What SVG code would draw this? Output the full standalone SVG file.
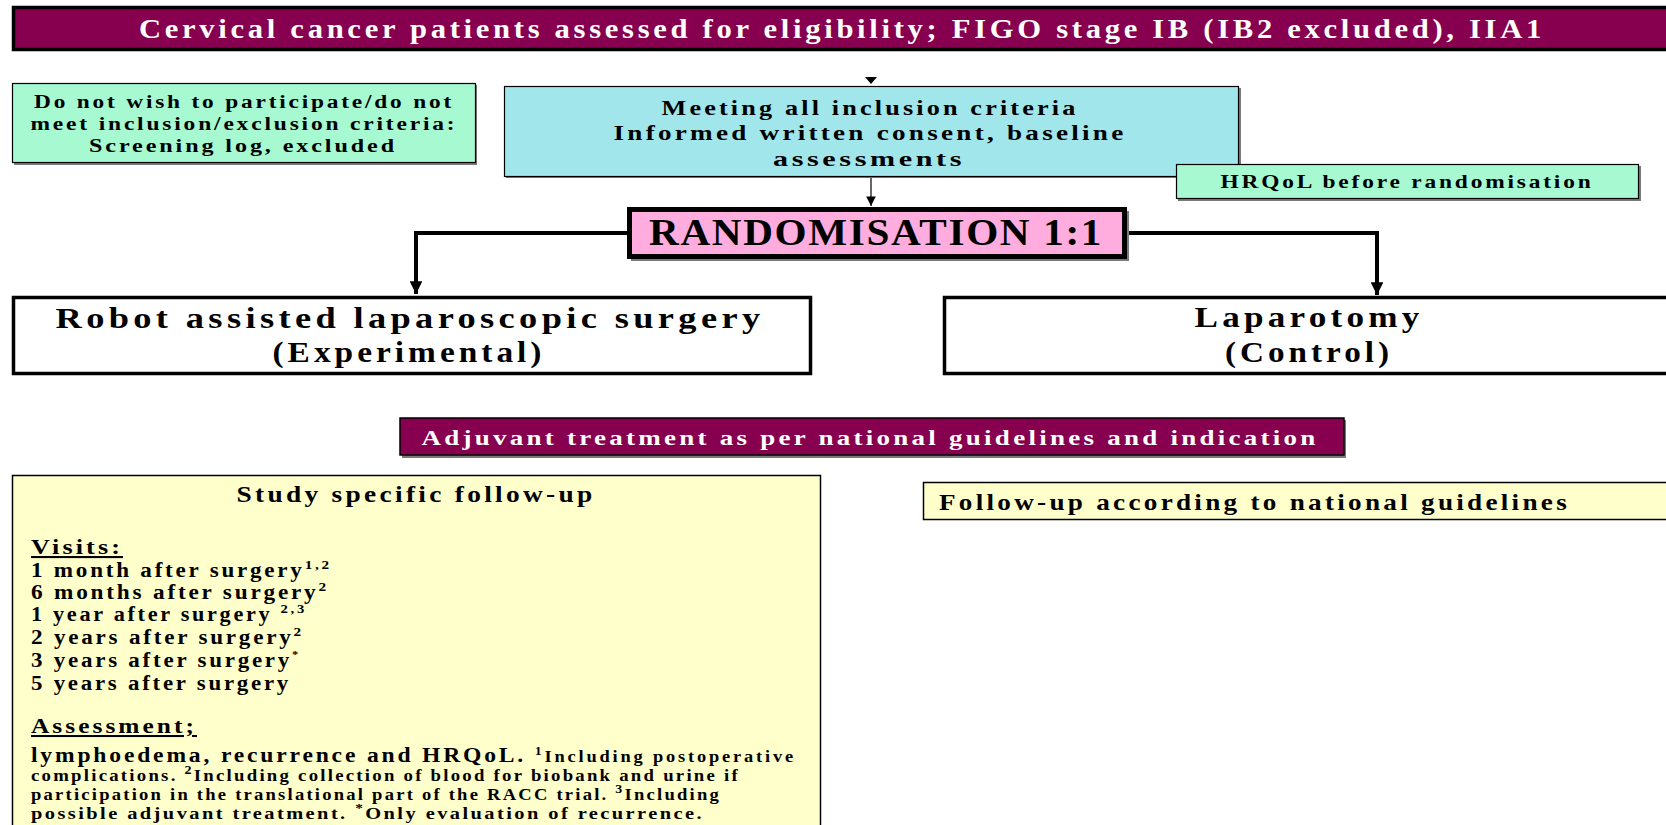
<svg xmlns="http://www.w3.org/2000/svg" width="1666" height="825" viewBox="0 0 1666 825">
<defs>
<style>
text{font-family:"Liberation Serif","Times New Roman",serif;font-weight:bold;fill:#000;letter-spacing:0.12em}
.w{fill:#fff}
.c{text-anchor:middle}
.maroon{fill:#86004F;stroke:#000}
.mint{fill:#A6F9D0;stroke:#000;stroke-width:1.2}
.cyan{fill:#A0E6EA;stroke:#000;stroke-width:1.2}
.yel{fill:#FFFFCC;stroke:#000;stroke-width:1.5}
.sh{fill:#7a7a7a}
.thin{stroke:#000;stroke-width:1.2;fill:none}
.thick{stroke:#000;stroke-width:4;fill:none}
</style>
<marker id="ah" viewBox="0 0 10 10" refX="10" refY="5" markerWidth="3.2" markerHeight="3.2" orient="auto" markerUnits="strokeWidth">
<path d="M0,0 L10,5 L0,10 z" fill="#000"/>
</marker>
<marker id="ahs" viewBox="0 0 10 10" refX="10" refY="5" markerWidth="8" markerHeight="8" orient="auto" markerUnits="strokeWidth">
<path d="M0,0 L10,5 L0,10 z" fill="#000"/>
</marker>
</defs>
<rect width="1666" height="825" fill="#fff"/>

<g id="connectors">
<path d="M865,77 L877,77 L871,84 z" fill="#000"/>
<line class="thin" x1="871" y1="177" x2="871" y2="206" marker-end="url(#ahs)"/>
<path class="thick" d="M627,233 H416 V294" marker-end="url(#ah)"/>
<path class="thick" d="M1127,233 H1377 V295" marker-end="url(#ah)"/>
</g>

<g id="top-bar">
<rect class="maroon" x="13.5" y="7.5" width="1664" height="42" stroke-width="3.5"/>
<text class="w c" x="842" y="38" font-size="27" textLength="1406" lengthAdjust="spacingAndGlyphs">Cervical cancer patients assessed for eligibility; FIGO stage IB (IB2 excluded), IIA1</text>
</g>

<g id="excluded">
<rect class="sh" x="14" y="85" width="463" height="80"/>
<rect class="mint" x="12.5" y="83.5" width="463" height="79"/>
<text class="c" x="244" y="108" font-size="18.5" textLength="420" lengthAdjust="spacingAndGlyphs">Do not wish to participate/do not</text>
<text class="c" x="244" y="130" font-size="18.5" textLength="427" lengthAdjust="spacingAndGlyphs">meet inclusion/exclusion criteria:</text>
<text class="c" x="243" y="152" font-size="18.5" textLength="308" lengthAdjust="spacingAndGlyphs">Screening log, excluded</text>
</g>

<g id="inclusion">
<rect class="sh" x="506" y="88" width="735" height="90"/>
<rect class="cyan" x="504.5" y="86.5" width="734" height="90"/>
<text class="c" x="870" y="115" font-size="22" textLength="417" lengthAdjust="spacingAndGlyphs">Meeting all inclusion criteria</text>
<text class="c" x="870" y="140" font-size="22" textLength="513" lengthAdjust="spacingAndGlyphs">Informed written consent, baseline</text>
<text class="c" x="869" y="166" font-size="22" textLength="192" lengthAdjust="spacingAndGlyphs">assessments</text>
</g>

<g id="hrqol">
<rect class="sh" x="1178" y="166" width="463" height="35"/>
<rect class="mint" x="1176.5" y="164.5" width="462" height="34"/>
<text class="c" x="1407" y="188" font-size="19" textLength="373" lengthAdjust="spacingAndGlyphs">HRQoL before randomisation</text>
</g>

<g id="randomisation">
<rect class="sh" x="631" y="211" width="498" height="50"/>
<rect x="629.5" y="209.5" width="495" height="47" fill="#FFADDF" stroke="#000" stroke-width="5"/>
<text class="c" x="876" y="245" font-size="37" textLength="454" lengthAdjust="spacingAndGlyphs" style="letter-spacing:0.04em">RANDOMISATION 1:1</text>
</g>

<g id="robot">
<rect x="13.5" y="297.5" width="797" height="76" fill="#fff" stroke="#000" stroke-width="3.5"/>
<text class="c" x="410" y="328" font-size="29.5" textLength="709" lengthAdjust="spacingAndGlyphs">Robot assisted laparoscopic surgery</text>
<text class="c" x="409" y="362" font-size="29.5" textLength="273" lengthAdjust="spacingAndGlyphs">(Experimental)</text>
</g>

<g id="laparotomy">
<rect x="944.5" y="297.5" width="740" height="76" fill="#fff" stroke="#000" stroke-width="3.5"/>
<text class="c" x="1309" y="327" font-size="29.5" textLength="229" lengthAdjust="spacingAndGlyphs">Laparotomy</text>
<text class="c" x="1309" y="362" font-size="29.5" textLength="168" lengthAdjust="spacingAndGlyphs">(Control)</text>
</g>

<g id="adjuvant">
<rect class="sh" x="402" y="420" width="944" height="38"/>
<rect class="maroon" x="400" y="418" width="944" height="37" stroke-width="1.5"/>
<text class="w c" x="870" y="445" font-size="22" textLength="897" lengthAdjust="spacingAndGlyphs">Adjuvant treatment as per national guidelines and indication</text>
</g>

<g id="study-follow-up">
<rect class="yel" x="12.5" y="475.5" width="808" height="370"/>
<text class="c" x="416" y="502" font-size="23" textLength="359" lengthAdjust="spacingAndGlyphs">Study specific follow-up</text>
<text x="31" y="554" font-size="21" text-decoration="underline" textLength="92" lengthAdjust="spacingAndGlyphs">Visits:</text>
<text x="31" y="577" font-size="20.5" textLength="301" lengthAdjust="spacingAndGlyphs">1 month after surgery<tspan font-size="13.5" dy="-8">1,2</tspan></text>
<text x="31" y="599" font-size="20.5" textLength="298" lengthAdjust="spacingAndGlyphs">6 months after surgery<tspan font-size="13.5" dy="-8">2</tspan></text>
<text x="31" y="621" font-size="20.5" textLength="276" lengthAdjust="spacingAndGlyphs">1 year after surgery <tspan font-size="13.5" dy="-8">2,3</tspan></text>
<text x="31" y="644" font-size="20.5" textLength="273" lengthAdjust="spacingAndGlyphs">2 years after surgery<tspan font-size="13.5" dy="-8">2</tspan></text>
<text x="31" y="667" font-size="20.5" textLength="270" lengthAdjust="spacingAndGlyphs">3 years after surgery<tspan font-size="11" dy="-9">*</tspan></text>
<text x="31" y="690" font-size="20.5" textLength="260" lengthAdjust="spacingAndGlyphs">5 years after surgery</text>
<text x="31" y="733" font-size="20.5" text-decoration="underline" textLength="166" lengthAdjust="spacingAndGlyphs">Assessment;</text>
<text x="31" y="762" font-size="20.5" textLength="765" lengthAdjust="spacingAndGlyphs">lymphoedema, recurrence and HRQoL. <tspan font-size="12" dy="-7">1</tspan><tspan font-size="16" dy="7">Including postoperative</tspan></text>
<text x="31" y="781" font-size="16" textLength="709" lengthAdjust="spacingAndGlyphs">complications. <tspan font-size="12" dy="-7">2</tspan><tspan dy="7">Including collection of blood for biobank and urine if</tspan></text>
<text x="31" y="800" font-size="16" textLength="690" lengthAdjust="spacingAndGlyphs">participation in the translational part of the RACC trial.   <tspan font-size="12" dy="-7">3</tspan><tspan dy="7">Including</tspan></text>
<text x="31" y="819" font-size="16" textLength="673" lengthAdjust="spacingAndGlyphs">possible adjuvant treatment. <tspan font-size="12" dy="-7">*</tspan><tspan dy="7">Only evaluation of recurrence.</tspan></text>
</g>

<g id="national-follow-up">
<rect class="yel" x="923.5" y="482.5" width="760" height="37"/>
<text x="939" y="510" font-size="23" textLength="631" lengthAdjust="spacingAndGlyphs">Follow-up according to national guidelines</text>
</g>
</svg>
